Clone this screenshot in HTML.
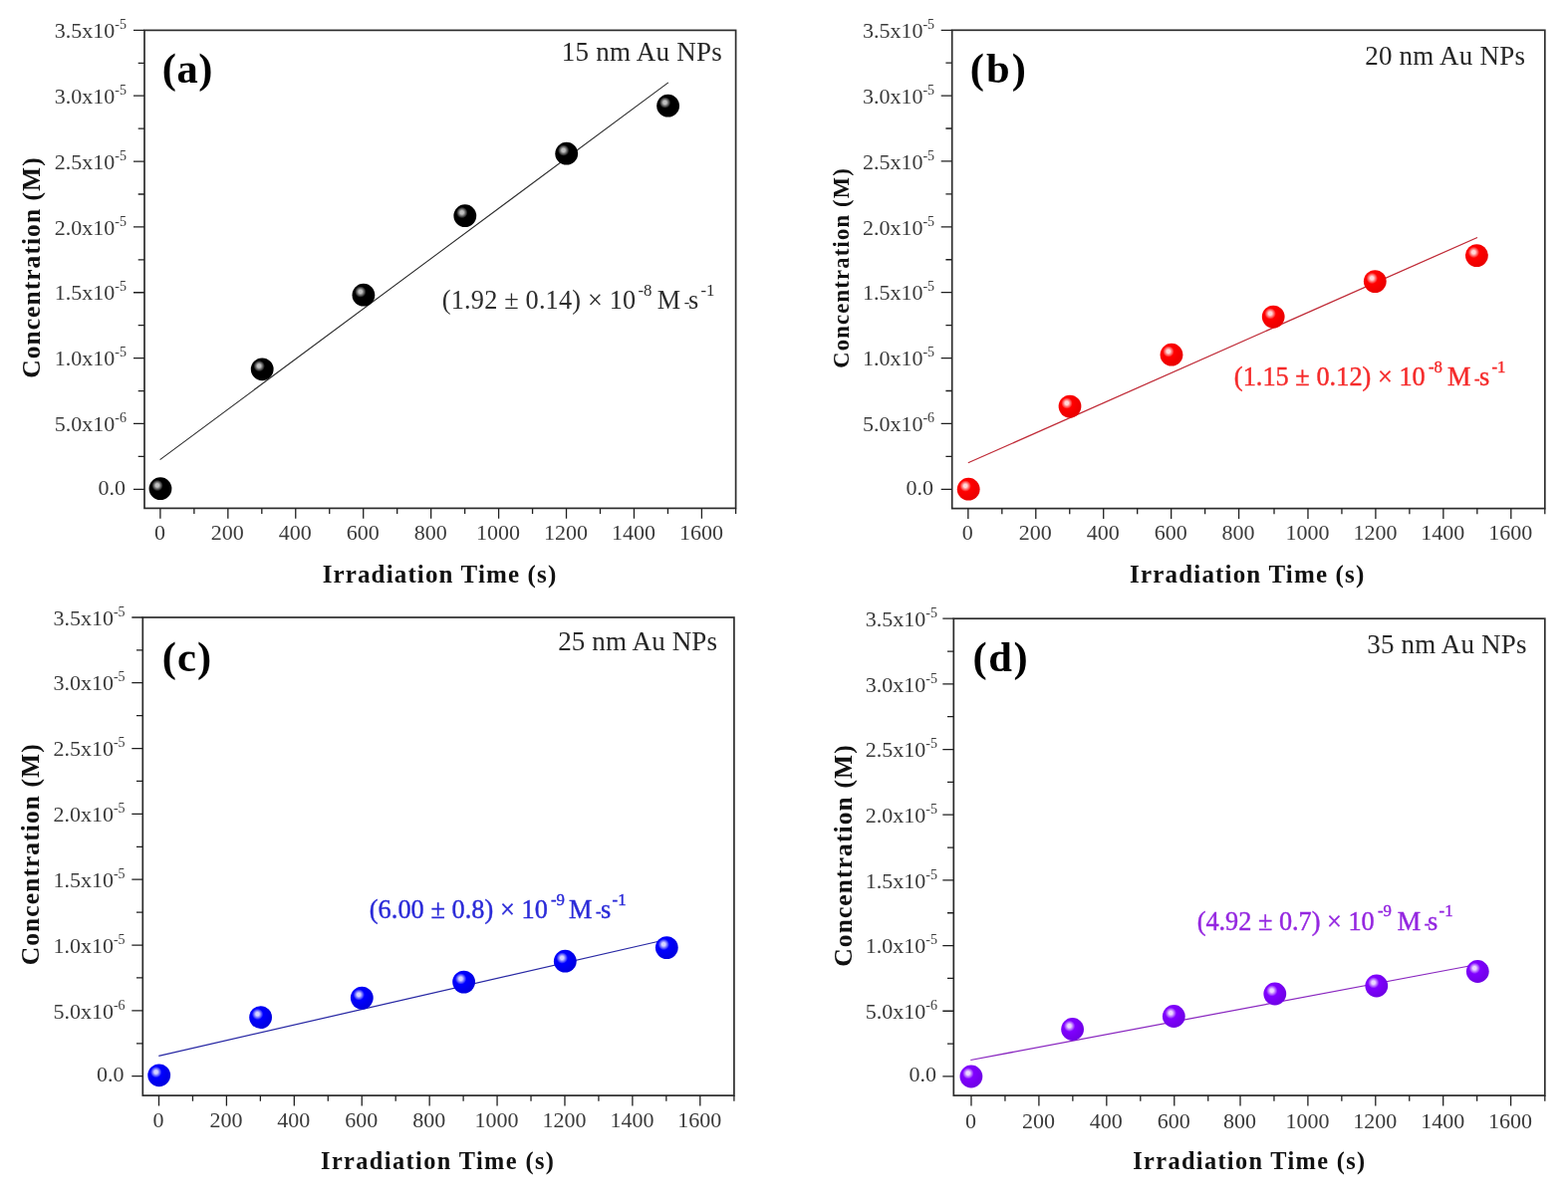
<!DOCTYPE html>
<html lang="en"><head><meta charset="utf-8"><title>Concentration vs Irradiation Time</title>
<style>html,body{margin:0;padding:0;background:#fff;}body{width:1574px;height:1200px;overflow:hidden;}svg{display:block;}text{font-family:"Liberation Serif","DejaVu Serif",serif;}.b{font-weight:bold;}</style>
</head><body>
<svg width="1574" height="1200" viewBox="0 0 1574 1200">
<defs>
<radialGradient id="ga" cx="0.38" cy="0.38" r="0.62" fx="0.36" fy="0.35"><stop offset="0" stop-color="#c0c0c0"/><stop offset="0.12" stop-color="#c0c0c0"/><stop offset="0.40" stop-color="#000000"/><stop offset="1" stop-color="#000000"/></radialGradient>
<radialGradient id="gb" cx="0.38" cy="0.38" r="0.62" fx="0.36" fy="0.35"><stop offset="0" stop-color="#ffd8d8"/><stop offset="0.12" stop-color="#ffd8d8"/><stop offset="0.40" stop-color="#ff0000"/><stop offset="1" stop-color="#ea0000"/></radialGradient>
<radialGradient id="gc" cx="0.38" cy="0.38" r="0.62" fx="0.36" fy="0.35"><stop offset="0" stop-color="#d4d4ff"/><stop offset="0.12" stop-color="#d4d4ff"/><stop offset="0.40" stop-color="#0000ff"/><stop offset="1" stop-color="#0000e0"/></radialGradient>
<radialGradient id="gd" cx="0.38" cy="0.38" r="0.62" fx="0.36" fy="0.35"><stop offset="0" stop-color="#ecd8ff"/><stop offset="0.12" stop-color="#ecd8ff"/><stop offset="0.40" stop-color="#8000ff"/><stop offset="1" stop-color="#7000e6"/></radialGradient>
</defs>
<rect x="0" y="0" width="1574" height="1200" fill="#ffffff"/>
<g id="figure">
<g id="panel-a">
<rect x="145" y="30.4" width="593.6" height="480" fill="none" stroke="#2c2c2c" stroke-width="1.7"/>
<path d="M160.9 510.4v10.3M194.87 510.4v5.7M228.84 510.4v10.3M262.81 510.4v5.7M296.77 510.4v10.3M330.74 510.4v5.7M364.71 510.4v10.3M398.68 510.4v5.7M432.65 510.4v10.3M466.62 510.4v5.7M500.59 510.4v10.3M534.56 510.4v5.7M568.52 510.4v10.3M602.49 510.4v5.7M636.46 510.4v10.3M670.43 510.4v5.7M704.4 510.4v10.3M738.6 510.4v5.7M145 491.3h-11.0M145 458.38h-6.3M145 425.45h-11.0M145 392.53h-6.3M145 359.6h-11.0M145 326.68h-6.3M145 293.75h-11.0M145 260.83h-6.3M145 227.9h-11.0M145 194.98h-6.3M145 162.05h-11.0M145 129.13h-6.3M145 96.2h-11.0M145 63.28h-6.3M145 30.4h-11.0" fill="none" stroke="#202020" stroke-width="1.3"/>
<text x="160.4" y="541.8" font-size="22" text-anchor="middle" fill="#3a3a3a">0</text>
<text x="228.34" y="541.8" font-size="22" text-anchor="middle" fill="#3a3a3a">200</text>
<text x="296.27" y="541.8" font-size="22" text-anchor="middle" fill="#3a3a3a">400</text>
<text x="364.21" y="541.8" font-size="22" text-anchor="middle" fill="#3a3a3a">600</text>
<text x="432.15" y="541.8" font-size="22" text-anchor="middle" fill="#3a3a3a">800</text>
<text x="500.09" y="541.8" font-size="22" text-anchor="middle" fill="#3a3a3a">1000</text>
<text x="568.02" y="541.8" font-size="22" text-anchor="middle" fill="#3a3a3a">1200</text>
<text x="635.96" y="541.8" font-size="22" text-anchor="middle" fill="#3a3a3a">1400</text>
<text x="703.9" y="541.8" font-size="22" text-anchor="middle" fill="#3a3a3a">1600</text>
<text x="125.9" y="496.5" font-size="22" text-anchor="end" fill="#3a3a3a">0.0</text>
<text x="126.9" y="433.15" font-size="22" text-anchor="end" fill="#3a3a3a">5.0x10<tspan font-size="14" dy="-9">-6</tspan></text>
<text x="126.9" y="367.3" font-size="22" text-anchor="end" fill="#3a3a3a">1.0x10<tspan font-size="14" dy="-9">-5</tspan></text>
<text x="126.9" y="301.45" font-size="22" text-anchor="end" fill="#3a3a3a">1.5x10<tspan font-size="14" dy="-9">-5</tspan></text>
<text x="126.9" y="235.6" font-size="22" text-anchor="end" fill="#3a3a3a">2.0x10<tspan font-size="14" dy="-9">-5</tspan></text>
<text x="126.9" y="169.75" font-size="22" text-anchor="end" fill="#3a3a3a">2.5x10<tspan font-size="14" dy="-9">-5</tspan></text>
<text x="126.9" y="103.9" font-size="22" text-anchor="end" fill="#3a3a3a">3.0x10<tspan font-size="14" dy="-9">-5</tspan></text>
<text x="126.9" y="38.1" font-size="22" text-anchor="end" fill="#3a3a3a">3.5x10<tspan font-size="14" dy="-9">-5</tspan></text>
<text class="b" x="323.65" y="585" font-size="25" letter-spacing="1.14" fill="#111">Irradiation Time (s)</text>
<text class="b" transform="translate(40 379.75) rotate(-90)" font-size="25.5" letter-spacing="1.05" fill="#111">Concentration (M)</text>
<line x1="160.6" y1="461.6" x2="670.9" y2="82.8" stroke="#2a2a2a" stroke-width="1.05"/>
<circle cx="161" cy="490.7" r="11.4" fill="url(#ga)"/>
<circle cx="263.2" cy="370.8" r="11.4" fill="url(#ga)"/>
<circle cx="364.9" cy="296.2" r="11.4" fill="url(#ga)"/>
<circle cx="466.8" cy="216.7" r="11.4" fill="url(#ga)"/>
<circle cx="568.7" cy="154.2" r="11.4" fill="url(#ga)"/>
<circle cx="670.6" cy="106.2" r="11.4" fill="url(#ga)"/>
<text class="b" x="162.65" y="83" font-size="42.5" letter-spacing="0.65" fill="#000">(a)</text>
<text x="563.85" y="60.8" font-size="27" letter-spacing="0.23" fill="#262626">15 nm Au NPs</text>
<text y="310.3" font-size="26.3" fill="#2c2c2c"><tspan x="443.85" letter-spacing="0.17">(1.92 ± 0.14) × 10</tspan><tspan x="640.5" dy="-13.1" font-size="16.8">-8</tspan><tspan x="659.85" dy="13.1">M</tspan><tspan x="686.8" dy="-1" font-size="16.5">-</tspan><tspan x="690.95" dy="1">s</tspan><tspan x="703.4" dy="-13.1" font-size="16.8">-1</tspan></text>
</g>
<g id="panel-b">
<rect x="955.7" y="30.3" width="595.1" height="480.3" fill="none" stroke="#2c2c2c" stroke-width="1.7"/>
<path d="M971.85 510.6v10.3M1005.82 510.6v5.7M1039.79 510.6v10.3M1073.76 510.6v5.7M1107.72 510.6v10.3M1141.69 510.6v5.7M1175.66 510.6v10.3M1209.63 510.6v5.7M1243.6 510.6v10.3M1279 510.6v5.7M1312.97 510.6v10.3M1346.94 510.6v5.7M1380.91 510.6v10.3M1414.89 510.6v5.7M1448.86 510.6v10.3M1482.83 510.6v5.7M1516.8 510.6v10.3M1550.8 510.6v5.7M955.7 491.3h-11.0M955.7 458.37h-6.3M955.7 425.43h-11.0M955.7 392.5h-6.3M955.7 359.56h-11.0M955.7 326.62h-6.3M955.7 293.69h-11.0M955.7 260.75h-6.3M955.7 227.82h-11.0M955.7 194.88h-6.3M955.7 161.95h-11.0M955.7 129.01h-6.3M955.7 96.08h-11.0M955.7 63.14h-6.3M955.7 30.3h-11.0" fill="none" stroke="#202020" stroke-width="1.3"/>
<text x="971.35" y="542.4" font-size="22" text-anchor="middle" fill="#3a3a3a">0</text>
<text x="1039.29" y="542.4" font-size="22" text-anchor="middle" fill="#3a3a3a">200</text>
<text x="1107.22" y="542.4" font-size="22" text-anchor="middle" fill="#3a3a3a">400</text>
<text x="1175.16" y="542.4" font-size="22" text-anchor="middle" fill="#3a3a3a">600</text>
<text x="1243.1" y="542.4" font-size="22" text-anchor="middle" fill="#3a3a3a">800</text>
<text x="1312.47" y="542.4" font-size="22" text-anchor="middle" fill="#3a3a3a">1000</text>
<text x="1380.41" y="542.4" font-size="22" text-anchor="middle" fill="#3a3a3a">1200</text>
<text x="1448.36" y="542.4" font-size="22" text-anchor="middle" fill="#3a3a3a">1400</text>
<text x="1516.3" y="542.4" font-size="22" text-anchor="middle" fill="#3a3a3a">1600</text>
<text x="937.1" y="496.5" font-size="22" text-anchor="end" fill="#3a3a3a">0.0</text>
<text x="938.1" y="433.13" font-size="22" text-anchor="end" fill="#3a3a3a">5.0x10<tspan font-size="14" dy="-9">-6</tspan></text>
<text x="938.1" y="367.26" font-size="22" text-anchor="end" fill="#3a3a3a">1.0x10<tspan font-size="14" dy="-9">-5</tspan></text>
<text x="938.1" y="301.39" font-size="22" text-anchor="end" fill="#3a3a3a">1.5x10<tspan font-size="14" dy="-9">-5</tspan></text>
<text x="938.1" y="235.52" font-size="22" text-anchor="end" fill="#3a3a3a">2.0x10<tspan font-size="14" dy="-9">-5</tspan></text>
<text x="938.1" y="169.65" font-size="22" text-anchor="end" fill="#3a3a3a">2.5x10<tspan font-size="14" dy="-9">-5</tspan></text>
<text x="938.1" y="103.78" font-size="22" text-anchor="end" fill="#3a3a3a">3.0x10<tspan font-size="14" dy="-9">-5</tspan></text>
<text x="938.1" y="38" font-size="22" text-anchor="end" fill="#3a3a3a">3.5x10<tspan font-size="14" dy="-9">-5</tspan></text>
<text class="b" x="1134.1" y="585" font-size="25" letter-spacing="1.17" fill="#111">Irradiation Time (s)</text>
<text class="b" transform="translate(851.5 369.7) rotate(-90)" font-size="22.5" letter-spacing="1.24" fill="#111">Concentration (M)</text>
<line x1="971.8" y1="464.8" x2="1483" y2="238.5" stroke="#c02c38" stroke-width="1.25"/>
<circle cx="972.2" cy="491.2" r="11.4" fill="url(#gb)"/>
<circle cx="1074" cy="408.1" r="11.4" fill="url(#gb)"/>
<circle cx="1176" cy="356.2" r="11.4" fill="url(#gb)"/>
<circle cx="1278.2" cy="318.1" r="11.4" fill="url(#gb)"/>
<circle cx="1380.3" cy="282.6" r="11.4" fill="url(#gb)"/>
<circle cx="1482.4" cy="256.6" r="11.4" fill="url(#gb)"/>
<text class="b" x="973.65" y="83.2" font-size="42.5" letter-spacing="2.18" fill="#000">(b)</text>
<text x="1370.15" y="65" font-size="27" letter-spacing="0.24" fill="#262626">20 nm Au NPs</text>
<text y="386.9" font-size="26.3" fill="#f52a2a" stroke="#f52a2a" stroke-width="0.4"><tspan x="1238.85" letter-spacing="0.03">(1.15 ± 0.12) × 10</tspan><tspan x="1433.9" dy="-13.1" font-size="16.8">-8</tspan><tspan x="1453.05" dy="13.1">M</tspan><tspan x="1480" dy="-1" font-size="16.5">-</tspan><tspan x="1485.05" dy="1">s</tspan><tspan x="1497.5" dy="-13.1" font-size="16.8">-1</tspan></text>
</g>
<g id="panel-c">
<rect x="143.3" y="620" width="593.6" height="480.1" fill="none" stroke="#2c2c2c" stroke-width="1.7"/>
<path d="M159.5 1100.1v10.3M193.46 1100.1v5.7M227.41 1100.1v10.3M261.37 1100.1v5.7M295.32 1100.1v10.3M329.28 1100.1v5.7M363.24 1100.1v10.3M397.19 1100.1v5.7M431.15 1100.1v10.3M465.11 1100.1v5.7M499.06 1100.1v10.3M533.02 1100.1v5.7M566.98 1100.1v10.3M600.93 1100.1v5.7M634.89 1100.1v10.3M668.84 1100.1v5.7M702.8 1100.1v10.3M736.9 1100.1v5.7M143.3 1080.7h-11.0M143.3 1047.79h-6.3M143.3 1014.87h-11.0M143.3 981.96h-6.3M143.3 949.04h-11.0M143.3 916.12h-6.3M143.3 883.21h-11.0M143.3 850.3h-6.3M143.3 817.38h-11.0M143.3 784.47h-6.3M143.3 751.55h-11.0M143.3 718.63h-6.3M143.3 685.72h-11.0M143.3 652.81h-6.3M143.3 620h-11.0" fill="none" stroke="#202020" stroke-width="1.3"/>
<text x="159" y="1131.8" font-size="22" text-anchor="middle" fill="#3a3a3a">0</text>
<text x="226.91" y="1131.8" font-size="22" text-anchor="middle" fill="#3a3a3a">200</text>
<text x="294.82" y="1131.8" font-size="22" text-anchor="middle" fill="#3a3a3a">400</text>
<text x="362.74" y="1131.8" font-size="22" text-anchor="middle" fill="#3a3a3a">600</text>
<text x="430.65" y="1131.8" font-size="22" text-anchor="middle" fill="#3a3a3a">800</text>
<text x="498.56" y="1131.8" font-size="22" text-anchor="middle" fill="#3a3a3a">1000</text>
<text x="566.48" y="1131.8" font-size="22" text-anchor="middle" fill="#3a3a3a">1200</text>
<text x="634.39" y="1131.8" font-size="22" text-anchor="middle" fill="#3a3a3a">1400</text>
<text x="702.3" y="1131.8" font-size="22" text-anchor="middle" fill="#3a3a3a">1600</text>
<text x="124.6" y="1085.9" font-size="22" text-anchor="end" fill="#3a3a3a">0.0</text>
<text x="125.6" y="1022.57" font-size="22" text-anchor="end" fill="#3a3a3a">5.0x10<tspan font-size="14" dy="-9">-6</tspan></text>
<text x="125.6" y="956.74" font-size="22" text-anchor="end" fill="#3a3a3a">1.0x10<tspan font-size="14" dy="-9">-5</tspan></text>
<text x="125.6" y="890.91" font-size="22" text-anchor="end" fill="#3a3a3a">1.5x10<tspan font-size="14" dy="-9">-5</tspan></text>
<text x="125.6" y="825.08" font-size="22" text-anchor="end" fill="#3a3a3a">2.0x10<tspan font-size="14" dy="-9">-5</tspan></text>
<text x="125.6" y="759.25" font-size="22" text-anchor="end" fill="#3a3a3a">2.5x10<tspan font-size="14" dy="-9">-5</tspan></text>
<text x="125.6" y="693.42" font-size="22" text-anchor="end" fill="#3a3a3a">3.0x10<tspan font-size="14" dy="-9">-5</tspan></text>
<text x="125.6" y="627.7" font-size="22" text-anchor="end" fill="#3a3a3a">3.5x10<tspan font-size="14" dy="-9">-5</tspan></text>
<text class="b" x="322" y="1174.2" font-size="24.3" letter-spacing="1.42" fill="#111">Irradiation Time (s)</text>
<text class="b" transform="translate(39 969.25) rotate(-90)" font-size="25.5" letter-spacing="1.08" fill="#111">Concentration (M)</text>
<line x1="159.3" y1="1060.3" x2="669" y2="943.5" stroke="#2828a4" stroke-width="1.25"/>
<circle cx="159.7" cy="1079.8" r="11.4" fill="url(#gc)"/>
<circle cx="261.6" cy="1021.6" r="11.4" fill="url(#gc)"/>
<circle cx="363.3" cy="1002.1" r="11.4" fill="url(#gc)"/>
<circle cx="465.6" cy="986.1" r="11.4" fill="url(#gc)"/>
<circle cx="567.3" cy="965.2" r="11.4" fill="url(#gc)"/>
<circle cx="669.3" cy="951.6" r="11.4" fill="url(#gc)"/>
<text class="b" x="162.65" y="674.4" font-size="42.5" letter-spacing="1.2" fill="#000">(c)</text>
<text x="560.15" y="653.1" font-size="27" letter-spacing="0.14" fill="#262626">25 nm Au NPs</text>
<text y="921.8" font-size="26.3" fill="#2a2ad8" stroke="#2a2ad8" stroke-width="0.4"><tspan x="370.75" letter-spacing="0.05">(6.00 ± 0.8) × 10</tspan><tspan x="552.9" dy="-13.1" font-size="16.8">-9</tspan><tspan x="571.05" dy="13.1">M</tspan><tspan x="598" dy="-1" font-size="16.5">-</tspan><tspan x="603.05" dy="1">s</tspan><tspan x="614.6" dy="-13.1" font-size="16.8">-1</tspan></text>
</g>
<g id="panel-d">
<rect x="957.3" y="621.2" width="593.5" height="478.9" fill="none" stroke="#2c2c2c" stroke-width="1.7"/>
<path d="M974.96 1100.1v10.3M1008.93 1100.1v5.7M1042.9 1100.1v10.3M1076.87 1100.1v5.7M1110.84 1100.1v10.3M1144.81 1100.1v5.7M1178.78 1100.1v10.3M1212.75 1100.1v5.7M1245 1100.1v10.3M1278.95 1100.1v5.7M1312.9 1100.1v10.3M1346.85 1100.1v5.7M1380.8 1100.1v10.3M1414.75 1100.1v5.7M1448.7 1100.1v10.3M1482.65 1100.1v5.7M1516.6 1100.1v10.3M1550.8 1100.1v5.7M957.3 1080.9h-11.0M957.3 1048.07h-6.3M957.3 1015.23h-11.0M957.3 982.4h-6.3M957.3 949.56h-11.0M957.3 916.73h-6.3M957.3 883.89h-11.0M957.3 851.06h-6.3M957.3 818.22h-11.0M957.3 785.39h-6.3M957.3 752.55h-11.0M957.3 719.72h-6.3M957.3 686.88h-11.0M957.3 654.05h-6.3M957.3 621.2h-11.0" fill="none" stroke="#202020" stroke-width="1.3"/>
<text x="974.46" y="1133.2" font-size="22" text-anchor="middle" fill="#3a3a3a">0</text>
<text x="1042.4" y="1133.2" font-size="22" text-anchor="middle" fill="#3a3a3a">200</text>
<text x="1110.34" y="1133.2" font-size="22" text-anchor="middle" fill="#3a3a3a">400</text>
<text x="1178.28" y="1133.2" font-size="22" text-anchor="middle" fill="#3a3a3a">600</text>
<text x="1244.5" y="1133.2" font-size="22" text-anchor="middle" fill="#3a3a3a">800</text>
<text x="1312.4" y="1133.2" font-size="22" text-anchor="middle" fill="#3a3a3a">1000</text>
<text x="1380.3" y="1133.2" font-size="22" text-anchor="middle" fill="#3a3a3a">1200</text>
<text x="1448.2" y="1133.2" font-size="22" text-anchor="middle" fill="#3a3a3a">1400</text>
<text x="1516.1" y="1133.2" font-size="22" text-anchor="middle" fill="#3a3a3a">1600</text>
<text x="939.9" y="1086.1" font-size="22" text-anchor="end" fill="#3a3a3a">0.0</text>
<text x="940.9" y="1022.93" font-size="22" text-anchor="end" fill="#3a3a3a">5.0x10<tspan font-size="14" dy="-9">-6</tspan></text>
<text x="940.9" y="957.26" font-size="22" text-anchor="end" fill="#3a3a3a">1.0x10<tspan font-size="14" dy="-9">-5</tspan></text>
<text x="940.9" y="891.59" font-size="22" text-anchor="end" fill="#3a3a3a">1.5x10<tspan font-size="14" dy="-9">-5</tspan></text>
<text x="940.9" y="825.92" font-size="22" text-anchor="end" fill="#3a3a3a">2.0x10<tspan font-size="14" dy="-9">-5</tspan></text>
<text x="940.9" y="760.25" font-size="22" text-anchor="end" fill="#3a3a3a">2.5x10<tspan font-size="14" dy="-9">-5</tspan></text>
<text x="940.9" y="694.58" font-size="22" text-anchor="end" fill="#3a3a3a">3.0x10<tspan font-size="14" dy="-9">-5</tspan></text>
<text x="940.9" y="628.9" font-size="22" text-anchor="end" fill="#3a3a3a">3.5x10<tspan font-size="14" dy="-9">-5</tspan></text>
<text class="b" x="1137.3" y="1174.2" font-size="24.3" letter-spacing="1.36" fill="#111">Irradiation Time (s)</text>
<text class="b" transform="translate(855 970.75) rotate(-90)" font-size="25.5" letter-spacing="1.11" fill="#111">Concentration (M)</text>
<line x1="974.3" y1="1064.5" x2="1483" y2="968.5" stroke="#8a28c0" stroke-width="1.25"/>
<circle cx="974.9" cy="1081" r="11.4" fill="url(#gd)"/>
<circle cx="1076.6" cy="1033.5" r="11.4" fill="url(#gd)"/>
<circle cx="1178.3" cy="1020.5" r="11.4" fill="url(#gd)"/>
<circle cx="1279.8" cy="998" r="11.4" fill="url(#gd)"/>
<circle cx="1381.8" cy="990" r="11.4" fill="url(#gd)"/>
<circle cx="1483.3" cy="975.5" r="11.4" fill="url(#gd)"/>
<text class="b" x="976.5" y="674.4" font-size="42.5" letter-spacing="1.62" fill="#000">(d)</text>
<text x="1372.25" y="656.1" font-size="27" letter-spacing="0.17" fill="#262626">35 nm Au NPs</text>
<text y="933.5" font-size="26.3" fill="#9426e0" stroke="#9426e0" stroke-width="0.4"><tspan x="1201.65" letter-spacing="-0.01">(4.92 ± 0.7) × 10</tspan><tspan x="1382.9" dy="-13.1" font-size="16.8">-9</tspan><tspan x="1402.85" dy="13.1">M</tspan><tspan x="1429.8" dy="-1" font-size="16.5">-</tspan><tspan x="1433.05" dy="1">s</tspan><tspan x="1444.6" dy="-13.1" font-size="16.8">-1</tspan></text>
</g>
</g>
</svg>
</body></html>
